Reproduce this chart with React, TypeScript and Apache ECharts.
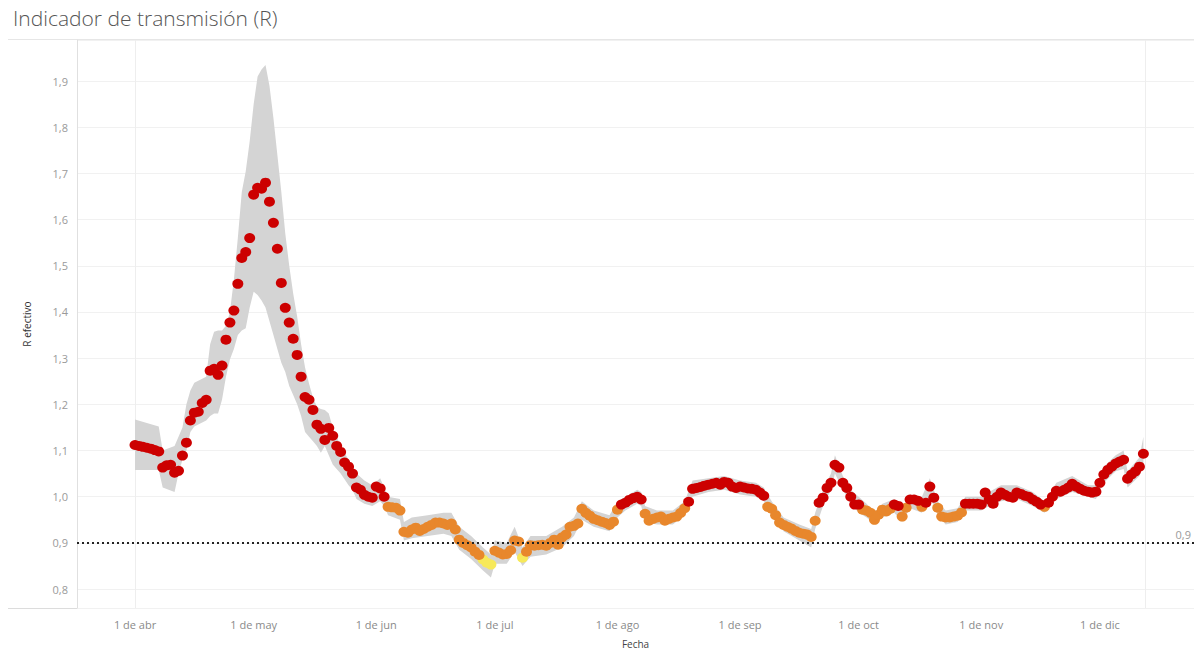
import { useEffect, useRef } from "react";
import * as echarts from "echarts";

// Day 0 = 1 de abr
const monthStarts = [0, 30, 61, 91, 122, 153, 183, 214, 244];
const monthLabels = ["1 de abr", "1 de may", "1 de jun", "1 de jul", "1 de ago", "1 de sep", "1 de oct", "1 de nov", "1 de dic"];

// Daily R effective (one value per day starting 1 de abr)
const rValues = [
  // abr
  1.112, 1.110, 1.108, 1.106, 1.104, 1.101, 1.098, 1.063, 1.068, 1.069,
  1.052, 1.056, 1.089, 1.117, 1.165, 1.182, 1.184, 1.203, 1.210, 1.273,
  1.277, 1.264, 1.284, 1.340, 1.377, 1.403, 1.461, 1.517, 1.530, 1.560,
  // may
  1.654, 1.669, 1.667, 1.680, 1.639, 1.593, 1.537, 1.463, 1.409, 1.377,
  1.342, 1.307, 1.260, 1.216, 1.210, 1.188, 1.156, 1.147, 1.123, 1.149,
  1.132, 1.110, 1.097, 1.074, 1.065, 1.050, 1.020, 1.015, 1.004, 1.000,
  0.998,
  // jun
  1.022, 1.018, 1.000, 0.978, 0.977, 0.976, 0.970, 0.924, 0.922, 0.929,
  0.933, 0.926, 0.930, 0.935, 0.939, 0.944, 0.944, 0.942, 0.939, 0.942,
  0.929, 0.907, 0.900, 0.895, 0.890, 0.881, 0.874, 0.864, 0.857, 0.853,
  // jul
  0.883, 0.879, 0.875, 0.876, 0.884, 0.905, 0.903, 0.868, 0.881, 0.895,
  0.894, 0.895, 0.896, 0.894, 0.900, 0.907, 0.896, 0.912, 0.918, 0.935,
  0.937, 0.942, 0.974, 0.965, 0.959, 0.952, 0.949, 0.946, 0.943, 0.939,
  0.946,
  // ago
  0.972, 0.983, 0.987, 0.993, 0.997, 1.000, 0.994, 0.963, 0.948, 0.952,
  0.955, 0.957, 0.948, 0.952, 0.955, 0.957, 0.965, 0.975, 0.989, 1.017,
  1.019, 1.021, 1.024, 1.026, 1.028, 1.030, 1.026, 1.032, 1.030, 1.022,
  1.019,
  // sep
  1.022, 1.020, 1.018, 1.017, 1.015, 1.009, 1.002, 0.978, 0.974, 0.960,
  0.944, 0.939, 0.935, 0.931, 0.926, 0.922, 0.920, 0.918, 0.913, 0.948,
  0.987, 0.998, 1.019, 1.030, 1.069, 1.063, 1.030, 1.019, 1.000, 0.983,
  // oct
  0.983, 0.972, 0.970, 0.965, 0.950, 0.961, 0.972, 0.968, 0.974, 0.983,
  0.980, 0.957, 0.976, 0.994, 0.994, 0.991, 0.978, 0.987, 1.022, 0.998,
  0.976, 0.957, 0.955, 0.955, 0.957, 0.959, 0.966, 0.985, 0.985, 0.985,
  0.985,
  // nov
  0.983, 1.009, 0.994, 0.985, 1.000, 1.009, 1.004, 1.000, 0.998, 1.009,
  1.006, 1.002, 1.000, 0.994, 0.989, 0.983, 0.978, 0.987, 1.000, 1.013,
  1.011, 1.015, 1.020, 1.028, 1.022, 1.017, 1.013, 1.011, 1.009, 1.011,
  // dic
  1.030, 1.048, 1.058, 1.065, 1.072, 1.076, 1.080, 1.039, 1.048, 1.055,
  1.065, 1.093,
];

// Confidence band, read at selected days
const bandDay = [
  0, 6, 7, 10, 11, 12, 13, 14, 15, 18, 19, 20, 21, 22, 23, 24, 25, 26, 27, 28,
  29, 30, 31, 32, 33, 34, 35, 36, 37, 38, 39, 40, 41, 42, 43, 44, 45, 46, 47, 48,
  49, 50, 52, 54, 55, 56, 58, 60, 62, 63, 64, 67, 68, 70, 74, 78, 80, 82, 85, 88,
  90, 91, 94, 96, 98, 100, 104, 108, 111, 113, 116, 120, 122, 124, 127, 128, 129, 132, 136, 139,
  141, 145, 149, 153, 157, 159, 161, 164, 168, 171, 172, 174, 176, 177, 179, 181, 183, 185, 187, 189,
  192, 194, 196, 199, 201, 203, 205, 208, 210, 214, 216, 219, 223, 227, 230, 233, 237, 241, 243, 245,
  248, 250, 251, 254, 255,
];
const bandLow = [
  1.058, 1.058, 1.020, 1.010, 1.050, 1.080, 1.100, 1.140, 1.152, 1.165, 1.175, 1.180, 1.180, 1.210, 1.260, 1.297, 1.320, 1.350, 1.360, 1.365,
  1.410, 1.444, 1.437, 1.425, 1.410, 1.380, 1.350, 1.320, 1.290, 1.270, 1.240, 1.220, 1.200, 1.175, 1.140, 1.130, 1.120, 1.110, 1.095, 1.110,
  1.090, 1.070, 1.050, 1.025, 1.015, 0.995, 0.985, 0.980, 0.990, 0.980, 0.960, 0.950, 0.905, 0.910, 0.915, 0.920, 0.915, 0.885, 0.865, 0.840,
  0.825, 0.855, 0.855, 0.880, 0.850, 0.870, 0.875, 0.890, 0.915, 0.950, 0.935, 0.925, 0.955, 0.970, 0.985, 0.980, 0.945, 0.940, 0.940, 0.960,
  1.000, 1.010, 1.015, 1.005, 1.000, 0.990, 0.960, 0.925, 0.905, 0.890, 0.930, 0.980, 1.015, 1.050, 1.015, 0.985, 0.965, 0.955, 0.940, 0.955,
  0.965, 0.945, 0.975, 0.965, 1.000, 0.960, 0.940, 0.945, 0.970, 0.970, 0.980, 0.990, 0.995, 0.980, 0.965, 0.995, 1.010, 1.000, 0.995, 1.030,
  1.055, 1.060, 1.020, 1.045, 1.070,
];
const bandHigh = [
  1.167, 1.152, 1.100, 1.110, 1.130, 1.150, 1.200, 1.230, 1.247, 1.260, 1.330, 1.357, 1.360, 1.360, 1.370, 1.400, 1.470, 1.560, 1.660, 1.705,
  1.770, 1.850, 1.910, 1.925, 1.935, 1.890, 1.820, 1.740, 1.660, 1.570, 1.500, 1.440, 1.390, 1.330, 1.280, 1.245, 1.215, 1.195, 1.190, 1.188,
  1.180, 1.150, 1.110, 1.080, 1.065, 1.050, 1.035, 1.025, 1.040, 1.020, 1.000, 0.995, 0.945, 0.955, 0.960, 0.965, 0.965, 0.935, 0.915, 0.890,
  0.875, 0.905, 0.900, 0.935, 0.890, 0.915, 0.915, 0.935, 0.955, 0.990, 0.970, 0.960, 0.990, 1.000, 1.015, 1.010, 0.980, 0.970, 0.970, 0.990,
  1.035, 1.040, 1.045, 1.035, 1.030, 1.020, 0.990, 0.955, 0.940, 0.930, 0.965, 1.015, 1.050, 1.090, 1.045, 1.015, 1.000, 0.985, 0.965, 0.985,
  0.995, 0.975, 1.005, 1.000, 1.040, 0.990, 0.970, 0.975, 1.000, 1.000, 1.010, 1.025, 1.025, 1.010, 0.990, 1.030, 1.045, 1.025, 1.025, 1.065,
  1.090, 1.100, 1.055, 1.085, 1.130,
];

const referenceLevel = 0.9;
const dataExtentDays = [0, 255.4];

const FONT = "'Open Sans', Lato, sans-serif";
const fmtComma = (v: number) => v.toFixed(1).replace(".", ",");

export default function App() {
  const ref = useRef<HTMLDivElement>(null);

  useEffect(() => {
    const chart = echarts.init(ref.current!, null, { renderer: "svg" });

    const red: number[][] = [];
    const orange: number[][] = [];
    const yellow: number[][] = [];
    rValues.forEach((v, d) => {
      if (v >= 0.98) red.push([d, v]);
      else if (v < 0.87) yellow.push([d, v]);
      else orange.push([d, v]);
    });

    const bandData = bandDay.map((d, i) => [d, bandLow[i], bandHigh[i]]);

    const dot = (name: string, data: number[][], color: string, z: number, extra: any = {}) => ({
      name,
      type: "scatter",
      data,
      symbol: "circle",
      symbolSize: [11, 10],
      itemStyle: { color, opacity: 1 },
      z,
      silent: true,
      ...extra,
    });

    chart.setOption({
      animation: false,
      backgroundColor: "#ffffff",
      textStyle: { fontFamily: FONT },
      title: {
        text: "Indicador de transmisión (R)",
        left: 13,
        top: 7,
        padding: 0,
        textStyle: { fontFamily: FONT, fontSize: 21, fontWeight: 300, color: "#555555" },
      },
      graphic: [
        { type: "line", shape: { x1: 8, y1: 39.5, x2: 1194, y2: 39.5 }, style: { stroke: "#e6e6e6", lineWidth: 1 }, silent: true },
        { type: "line", shape: { x1: 8, y1: 608.5, x2: 1194, y2: 608.5 }, style: { stroke: "#dcdcdc", lineWidth: 1 }, silent: true },
      ],
      grid: { left: 77, right: 0, top: 40, bottom: 44, containLabel: false, outerBoundsMode: "none" },
      xAxis: {
        type: "value",
        min: -14.67,
        max: 267.8,
        name: "Fecha",
        nameLocation: "middle",
        nameGap: 31,
        nameTextStyle: { fontFamily: FONT, fontSize: 10, color: "#444444" },
        axisLine: { show: false, onZero: false },
        axisTick: { show: false, customValues: monthStarts },
        splitLine: { show: false },
        axisLabel: {
          customValues: monthStarts,
          margin: 11,
          fontSize: 11,
          color: "#8a8a8a",
          fontFamily: FONT,
          formatter: (v: number) => {
            const i = monthStarts.indexOf(Math.round(v));
            return i >= 0 ? monthLabels[i] : "";
          },
        },
      },
      yAxis: {
        type: "value",
        min: 0.759,
        max: 1.989,
        splitNumber: 12,
        name: "R efectivo",
        nameLocation: "middle",
        nameRotate: 90,
        nameGap: 45,
        nameTextStyle: { fontFamily: FONT, fontSize: 10, color: "#333333" },
        axisLine: { show: true, onZero: false, lineStyle: { color: "#e0e0e0", width: 1 } },
        axisTick: { show: false },
        splitLine: { show: true, lineStyle: { color: "#f1f1f1", width: 1 } },
        axisLabel: {
          showMinLabel: false,
          showMaxLabel: false,
          margin: 9,
          fontSize: 11,
          color: "#9a9a9a",
          fontFamily: FONT,
          formatter: (v: number) => fmtComma(v),
        },
      },
      series: [
        {
          name: "band",
          type: "custom",
          data: bandData,
          encode: { x: 0, y: [1, 2] },
          silent: true,
          clip: true,
          z: 1,
          renderItem: (params: any, api: any) => {
            if (params.dataIndex !== 0) return null;
            const pts: number[][] = [];
            for (let i = 0; i < bandDay.length; i++) pts.push(api.coord([bandDay[i], bandHigh[i]]));
            for (let i = bandDay.length - 1; i >= 0; i--) pts.push(api.coord([bandDay[i], bandLow[i]]));
            return { type: "polygon", shape: { points: pts }, style: { fill: "#d4d4d4", stroke: "none" } };
          },
        },
        dot("yellow", yellow, "#f7e95a", 3, {
          markLine: {
            silent: true,
            symbol: "none",
            z: 0,
            lineStyle: { type: "solid", color: "#eeeeee", width: 1 },
            label: { show: false },
            data: dataExtentDays.map((d) => ({ xAxis: d })),
          },
        }),
        dot("orange", orange, "#e8872c", 3, {
          markLine: {
            silent: true,
            symbol: "none",
            lineStyle: { type: [2, 3], color: "#222222", width: 2 },
            label: {
              show: true,
              position: "insideEndTop",
              formatter: fmtComma(referenceLevel),
              color: "#9a9a9a",
              fontSize: 11,
              fontFamily: FONT,
              distance: 3,
            },
            data: [{ yAxis: referenceLevel }],
          },
        }),
        dot("red", red, "#cc0000", 4),
      ],
    });

    return () => chart.dispose();
  }, []);

  return <div ref={ref} style={{ position: "fixed", left: 0, top: 0, width: 1194, height: 652 }} />;
}
